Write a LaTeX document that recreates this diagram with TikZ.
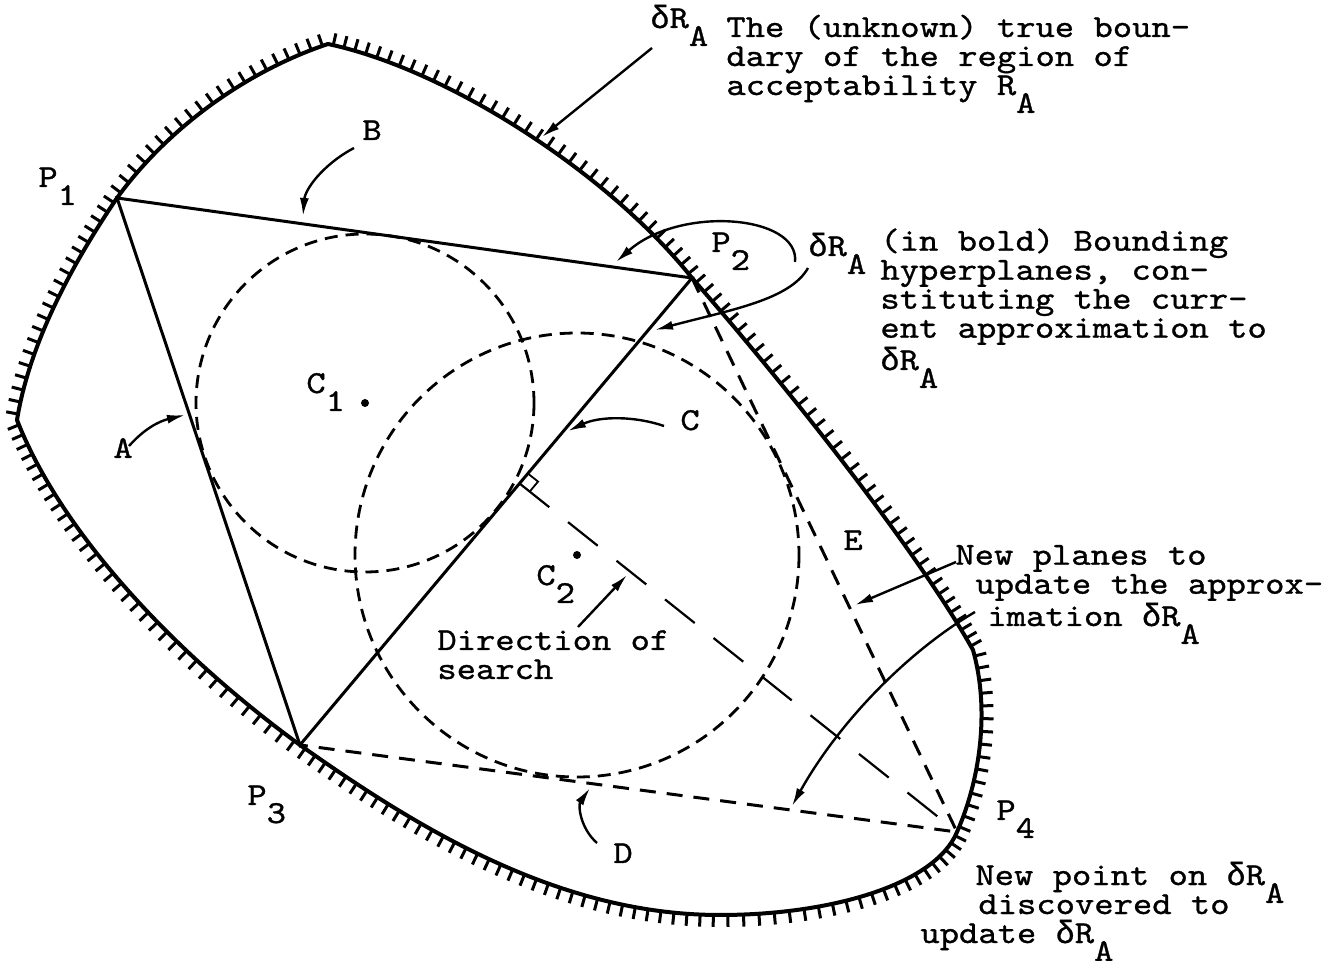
\documentclass[tikz,border=0pt]{standalone}
\usepackage{fontspec}
\newfontfamily\twfont{lmmono10-regular.otf}[FakeStretch=1.15, FakeBold=1]
\newfontfamily\gkfont{Liberation Mono}[FakeBold=0.6]
\usetikzlibrary{positioning, arrows.meta, calc}
\newcommand{\tw}{\twfont\fontsize{16pt}{14.5pt}\selectfont}
\newcommand{\dn}[1]{\raisebox{-9pt}[0pt][0pt]{#1}}
\newcommand{\dl}{{\gkfont δ}}
\tikzstyle{every node}=[font=\tw, inner sep=0pt, anchor=base west]
\tikzstyle{txt}=[align=left]
\tikzstyle{bnd}=[line width=2pt, line cap=round]
\tikzstyle{tick}=[sloped, allow upside down, anchor=south, outer sep=0pt]
\tikzstyle{hyp}=[line width=1.5pt]
\tikzstyle{newhyp}=[line width=1.5pt, dash pattern=on 8pt off 5.5pt]
\tikzstyle{circ}=[line width=1.4pt, dash pattern=on 6.5pt off 4pt]
\tikzstyle{srch}=[line width=1.1pt, dash pattern=on 19pt off 12pt]
\tikzstyle{arr}=[->, line width=1.2pt]

\begin{document}
\begin{tikzpicture}[x=0.5pt, y=-0.5pt, >={Latex[length=9pt,width=4.5pt]}]
\useasboundingbox (0,0) rectangle (1323,961);
\coordinate (P1) at (117,198);
\coordinate (P2) at (692,278);
\coordinate (P3) at (300,745);
\coordinate (P4) at (957,832);
\coordinate (C1) at (365,403);
\coordinate (C2) at (577,555);
\coordinate (F) at ($(P3)!0.56!(P2)$);

\coordinate (L) at (17,420);
\coordinate (T) at (328,44);
\coordinate (K) at (973,650);
\coordinate (Bt) at (720,915);
\coordinate (s1a) at (30,340);   \coordinate (s1b) at (75,260);
\coordinate (s2a) at (170,125);  \coordinate (s2b) at (250,70);
\coordinate (s3a) at (450,70);   \coordinate (s3b) at (610,175);
\coordinate (s4a) at (790,390);  \coordinate (s4b) at (920,555);
\coordinate (s5a) at (990,710);  \coordinate (s5b) at (980,780);
\coordinate (s6a) at (935,885);  \coordinate (s6b) at (830,915);
\coordinate (s7a) at (560,915);  \coordinate (s7b) at (420,830);
\coordinate (s8a) at (170,650);  \coordinate (s8b) at (60,530);

\foreach \a/\b/\c/\d/\n in {L/s1a/s1b/P1/20, P1/s2a/s2b/T/21, T/s3a/s3b/P2/35, P2/s4a/s4b/K/37,
    K/s5a/s5b/P4/15, P4/s6a/s6b/Bt/21, Bt/s7a/s7b/P3/36, P3/s8a/s8b/L/34} {
  \draw[bnd] (\a) .. controls (\b) and (\c) .. (\d);
  \foreach \k [evaluate=\k as \t using (\k-0.5)/\n] in {1,...,\n}
    \path (\a) .. controls (\b) and (\c) .. (\d) node[tick, pos=\t] {\rule{1.5pt}{6pt}};
}

\draw[hyp] (P1) -- (P2) -- (P3) -- cycle;
\draw[newhyp] (P2) -- (P4) -- (P3);
\draw[circ] (C1) circle (169);
\draw[circ] (C2) circle (222);
\fill (C1) circle (4);
\fill (C2) circle (4);
\draw[srch] (F) -- (P4);
\coordinate (Fa) at ($(F)!6.5pt!(P2)$);
\coordinate (Fb) at ($(F)!6.5pt!(P4)$);
\draw[line width=0.9pt] (Fa) -- ($(Fa)+(Fb)-(F)$) -- (Fb);

\node (lP1) at (38,187) {P\dn{1}};
\node (lP2) at (711,252) {P\dn{2}};
\node (lP3) at (247,805) {P\dn{3}};
\node (lP4) at (996,820) {P\dn{4}};
\node (lC1) at (306,393) {C\dn{1}};
\node (lC2) at (536,585) {C\dn{2}};
\node (lA) at (113,458) {A};
\node (lB) at (362,140) {B};
\node (lC) at (680,430) {C};
\node (lD) at (613,863) {D};
\node (lE) at (843,550) {E};

\node (dRtop) at (650,28) {\dl R\dn{A}};
\node[txt] (truebnd) at (726,95) {The (unknown) true boun-\\dary of the region of\\acceptability R\dn{A}};
\node (dRbold) at (808,256) {\dl R\dn{A}};
\node[txt] (bold) at (880,370) {(in bold) Bounding\\hyperplanes, con-\\stituting the curr-\\ent approximation to\\\dl R\dn{A}};
\node[txt] (newpl) at (955,626) {New planes to\\\hspace*{10pt}update the approx-\\\hspace*{16pt}imation \dl R\dn{A}};
\node[txt] (newpt) at (920,943) {\hspace*{27.5pt}New point on \dl R\dn{A}\\\hspace*{29pt}discovered to\\update \dl R\dn{A}};
\node[txt] (srch) at (437,679) {Direction of\\search};

\coordinate (tipbnd) at (542,137);
\coordinate (tipA) at (185,415);
\coordinate (tipB) at (303,216);
\coordinate (tipC) at (568,431);
\coordinate (tipD) at (590,788);
\coordinate (tipE) at (855,605);
\coordinate (tipD2) at (792,806);
\coordinate (tipS) at (627,575);
\coordinate (tip1) at (616,262);
\coordinate (tip2) at (655,330);

\draw[arr] ([shift={(2,20)}]dRtop.base west) -- (tipbnd);
\draw[arr] ([shift={(16,-12)}]lA.base west) .. controls (145,428) and (160,421) .. (tipA);
\draw[arr] ([shift={(-8,8)}]lB.base west) .. controls (322,165) and (305,190) .. (tipB);
\draw[arr] ([shift={(-16,-4)}]lC.base west) .. controls (635,416) and (600,416) .. (tipC);
\draw[arr] ([shift={(-16,-20)}]lD.base west) .. controls (580,828) and (578,805) .. (tipD);
\draw[arr] ([shift={(141,-52)}]srch.base west) -- (tipS);
\draw[arr] ([shift={(1,-64)}]newpl.base west) -- (tipE);
\draw[arr] ([shift={(20,-14)}]newpl.base west) .. controls (910,650) and (840,720) .. (tipD2);
\draw[arr] ([shift={(-13,6)}]dRbold.base west) .. controls (800,215) and (680,205) .. (tip1);
\draw[arr] ([shift={(0,12)}]dRbold.base west) .. controls (790,300) and (730,310) .. (tip2);
\end{tikzpicture}
\end{document}
